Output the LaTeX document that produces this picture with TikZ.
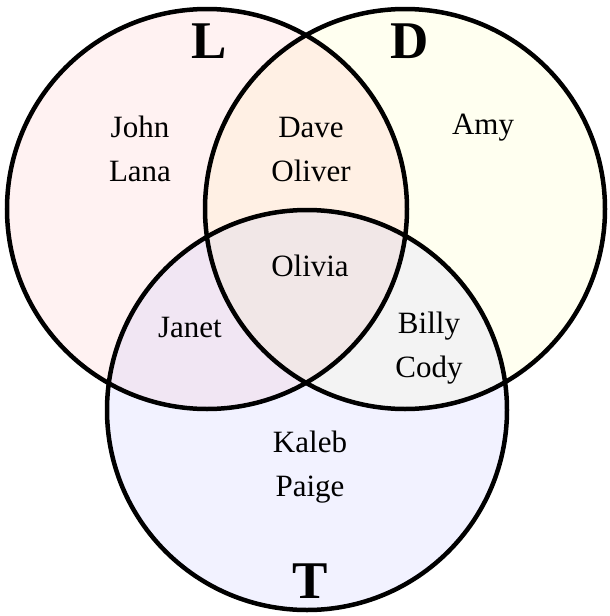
\documentclass[tikz,border=0pt]{standalone}
\usepackage{fontspec}
\setmainfont{Liberation Serif}
\definecolor{cL}{RGB}{255,242,242}
\definecolor{cD}{RGB}{255,255,240}
\definecolor{cT}{RGB}{242,242,255}
\definecolor{cLD}{RGB}{255,240,228}
\definecolor{cLT}{RGB}{241,230,243}
\definecolor{cDT}{RGB}{243,243,243}
\definecolor{cLDT}{RGB}{241,231,231}
\begin{document}
\begin{tikzpicture}[x=1pt,y=-1pt,
  ring/.style={draw=black,line width=4.5pt},
  person/.style={font=\fontsize{31}{44}\selectfont,align=center,text=black},
  setlabel/.style={font=\fontsize{53}{53}\selectfont\bfseries,text=black}]
\useasboundingbox (0,0) rectangle (610,616);
\coordinate (cl) at (207,209);
\coordinate (cd) at (405,209);
\coordinate (ct) at (307,410);
% single fills
\fill[cL] (cl) circle[radius=200pt];
\fill[cD] (cd) circle[radius=200pt];
\fill[cT] (ct) circle[radius=200pt];
% pairwise intersections
\begin{scope}\clip (cl) circle[radius=200pt]; \fill[cLD] (cd) circle[radius=200pt];\end{scope}
\begin{scope}\clip (cl) circle[radius=200pt]; \fill[cLT] (ct) circle[radius=200pt];\end{scope}
\begin{scope}\clip (cd) circle[radius=200pt]; \fill[cDT] (ct) circle[radius=200pt];\end{scope}
\begin{scope}\clip (cl) circle[radius=200pt]; \clip (cd) circle[radius=200pt]; \fill[cLDT] (ct) circle[radius=200pt];\end{scope}
% outlines
\draw[ring] (cl) circle[radius=200pt];
\draw[ring] (cd) circle[radius=200pt];
\draw[ring] (ct) circle[radius=200pt];
% set labels
\node[setlabel] (labL) at (209,41) {L};
\node[setlabel] (labD) at (410,41) {D};
\node[setlabel] (labT) at (310,581) {T};
% members
\node[person] (jl) at (140,149) {John\\Lana};
\node[person] (do) at (311,149) {Dave\\Oliver};
\node[person] (amy) at (483,128) {Amy};
\node[person] (oli) at (310,266) {Olivia};
\node[person] (jan) at (190,327) {Janet};
\node[person] (bc) at (429,348) {Billy\\Cody};
\node[person] (kp) at (310,467) {Kaleb\\Paige};
\end{tikzpicture}
\end{document}
